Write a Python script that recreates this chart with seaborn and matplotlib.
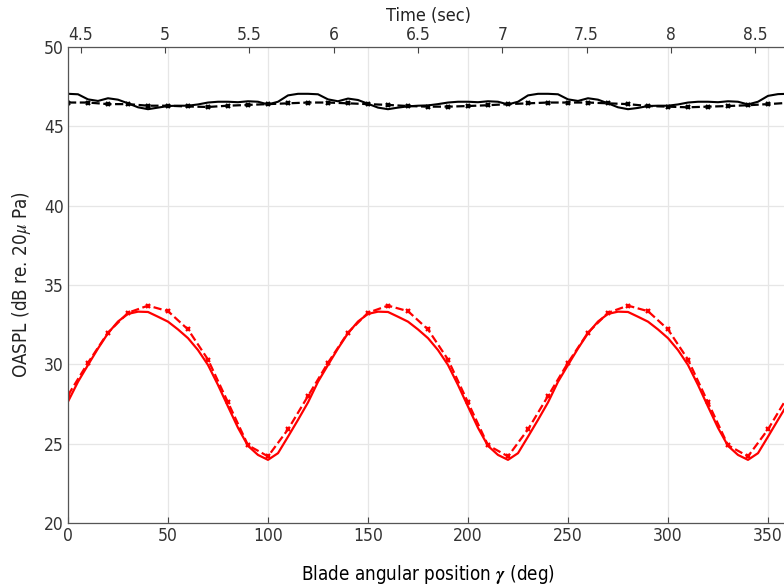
import matplotlib
matplotlib.use('Agg')
import matplotlib.pyplot as plt
from matplotlib import font_manager
import seaborn as sns
import pandas as pd

# blade angle (deg), fine grid for the solid curves
angle_fine = list(range(0, 365, 5))
black_solid = [47.05, 47.02, 46.70, 46.60, 46.77, 46.68, 46.45, 46.20, 46.08, 46.18, 46.28, 46.30,
               46.30, 46.38, 46.50, 46.55, 46.55, 46.52, 46.58, 46.55, 46.38, 46.55, 46.95, 47.05,
               47.05, 47.02, 46.70, 46.58, 46.75, 46.66, 46.42, 46.18, 46.08, 46.18, 46.26, 46.30,
               46.32, 46.40, 46.50, 46.55, 46.55, 46.52, 46.58, 46.55, 46.38, 46.55, 46.95, 47.05,
               47.05, 47.02, 46.70, 46.60, 46.77, 46.68, 46.45, 46.20, 46.08, 46.16, 46.28, 46.30,
               46.30, 46.38, 46.50, 46.55, 46.55, 46.52, 46.58, 46.55, 46.38, 46.55, 46.92, 47.03,
               47.05]
red_solid = [27.65, 28.90, 29.96, 31.00, 31.96, 32.70, 33.18, 33.32, 33.30, 33.00, 32.69, 32.20,
             31.65, 30.90, 29.96, 28.70, 27.34, 26.00, 24.86, 24.29, 23.98, 24.40, 25.44, 26.50,
             27.60, 28.90, 29.96, 31.00, 31.96, 32.70, 33.18, 33.32, 33.30, 33.00, 32.69, 32.20,
             31.65, 30.90, 29.96, 28.70, 27.34, 26.00, 24.86, 24.29, 23.98, 24.40, 25.44, 26.50,
             27.60, 28.90, 29.96, 31.00, 31.96, 32.70, 33.18, 33.32, 33.30, 33.00, 32.69, 32.20,
             31.65, 30.90, 29.96, 28.70, 27.34, 26.00, 24.86, 24.29, 23.98, 24.40, 25.44, 26.50,
             27.55]

# blade angle (deg) where the dashed curves carry markers
angle_marked = list(range(0, 370, 10))
black_dashed = [46.50, 46.50, 46.40, 46.40, 46.30, 46.30, 46.25, 46.22, 46.30, 46.35, 46.40, 46.45,
                46.50, 46.50, 46.45, 46.40, 46.35, 46.28, 46.24, 46.24, 46.28, 46.33, 46.40, 46.45,
                46.50, 46.50, 46.50, 46.45, 46.40, 46.28, 46.24, 46.20, 46.24, 46.28, 46.33, 46.40,
                46.48]
red_dashed = [28.05, 30.10, 32.00, 33.25, 33.70, 33.35, 32.20, 30.30, 27.60, 24.90, 24.20, 25.90,
              28.00, 30.10, 32.00, 33.25, 33.70, 33.35, 32.20, 30.30, 27.60, 24.90, 24.20, 25.90,
              28.00, 30.10, 32.00, 33.25, 33.70, 33.35, 32.20, 30.30, 27.60, 24.90, 24.20, 25.90,
              28.00]

angle_ticks = [0, 50, 100, 150, 200, 250, 300, 350]
oaspl_ticks = [20, 25, 30, 35, 40, 45, 50]
time_ticks = [4.5, 5, 5.5, 6, 6.5, 7, 7.5, 8, 8.5]
time_labels = ['4.5', '5', '5.5', '6', '6.5', '7', '7.5', '8', '8.5']

# angle -> time mapping of the top axis
deg_at_start = 6.4
deg_per_sec = 84.3


def to_time(deg):
    return 4.5 + (deg - deg_at_start) / deg_per_sec


def main():
    sns.set_style('white')
    names = {f.name for f in font_manager.fontManager.ttflist}
    fam = 'Liberation Sans Narrow' if 'Liberation Sans Narrow' in names else 'DejaVu Sans'
    plt.rcParams['font.family'] = [fam, 'DejaVu Sans']
    plt.rcParams['font.stretch'] = 'condensed'
    plt.rcParams['mathtext.fontset'] = 'stix'

    fig = plt.figure(figsize=(7.84, 5.87), dpi=100)
    ax = fig.add_axes([68 / 784, 64 / 587, 720 / 784, 476 / 587])

    fine = pd.DataFrame({'angle': angle_fine, 'black': black_solid, 'red': red_solid})
    marked = pd.DataFrame({'angle': angle_marked, 'black': black_dashed, 'red': red_dashed})

    sns.lineplot(data=fine, x='angle', y='black', color='black', lw=1.5, ax=ax)
    sns.lineplot(data=marked, x='angle', y='black', color='black', lw=1.6, linestyle='--',
                 marker='x', ms=3.5, mew=1.6, mec='black', ax=ax)
    sns.lineplot(data=fine, x='angle', y='red', color='red', lw=1.6, ax=ax)
    sns.lineplot(data=marked, x='angle', y='red', color='red', lw=1.6, linestyle='--',
                 marker='x', ms=3.5, mew=1.6, mec='red', ax=ax)

    ax.set_xlim(0, 360)
    ax.set_ylim(20, 50)
    ax.set_xticks(angle_ticks)
    ax.set_yticks(oaspl_ticks)
    ax.grid(True, color='#e6e6e6', lw=0.9)
    ax.tick_params(direction='in', top=True, right=False, length=4, labelsize=12.5,
                   colors='#444444', labelcolor='#333333', pad=3)
    for s in ax.spines.values():
        s.set_color('#555555')
        s.set_linewidth(0.9)

    ax.set_xlabel(r'Blade angular position $\boldsymbol{\gamma}$ (deg)', fontsize=13.5,
                  labelpad=13, color='black')
    ax.set_ylabel(r'OASPL (dB re. 20$\mu$ Pa)', fontsize=13.5, labelpad=8, color='#222222')

    ax2 = ax.twiny()
    ax2.set_xlim(to_time(0), to_time(360))
    ax2.set_xticks(time_ticks)
    ax2.set_xticklabels(time_labels)
    ax2.tick_params(direction='in', length=4, labelsize=12.5, colors='#444444',
                    labelcolor='#333333', pad=2)
    ax2.set_xlabel('Time (sec)', fontsize=13, labelpad=4, color='#222222')
    for s in ax2.spines.values():
        s.set_visible(False)

    fig.savefig('out.png', dpi=100)


if __name__ == '__main__':
    main()
